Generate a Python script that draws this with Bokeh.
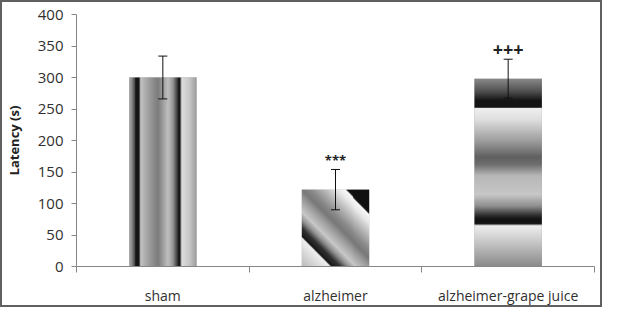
import numpy as np
from bokeh.plotting import figure
from bokeh.models import Range1d, FixedTicker, ColumnDataSource
from bokeh.core.properties import value
from bokeh.embed import file_html
from bokeh.resources import INLINE

# ---- data ----
categories = ["sham", "alzheimer", "alzheimer-grape juice"]
latency = [300, 122, 298]
error = [34, 32, 31]
marks = ["", "***", "+++"]
y_ticks = [0, 50, 100, 150, 200, 250, 300, 350, 400]

x_pos = [i + 0.5 for i in range(len(categories))]
bar_w = 0.39
AX = "#868686"
TXT = "#303030"
FONT = "Open Sans"

p = figure(width=602, height=307,
           min_border_left=76, min_border_right=8, min_border_top=14, min_border_bottom=40,
           x_range=Range1d(0, 3), y_range=Range1d(0, 400),
           output_backend="svg", toolbar_location=None,
           background_fill_color="white", border_fill_color="white", border_fill_alpha=0)
p.styles = {"box-shadow": "inset 0 0 0 2px #606060", "background-color": "white"}
p.outline_line_color = None
p.xgrid.visible = False
p.ygrid.visible = False


def profile(n, stops):
    pos = np.array([s[0] for s in stops], dtype=float)
    val = np.array([s[1] for s in stops], dtype=float)
    return np.interp(np.linspace(pos[0], pos[-1], n), pos, val)


def to_rgba(gray):
    h, w = gray.shape
    img = np.empty((h, w), dtype=np.uint32)
    v = img.view(dtype=np.uint8).reshape((h, w, 4))
    g = np.clip(gray, 0, 255).astype(np.uint8)
    v[:, :, 0] = g
    v[:, :, 1] = g
    v[:, :, 2] = g
    v[:, :, 3] = 255
    return img[::-1]  # row 0 at bottom


PX_PER_UNIT_Y = 253 / 400
W = 68

# sham: vertical stripes
sham_stops = [(0, 0xa8), (0.04, 0x80), (0.08, 0x40), (0.09, 0x14), (0.145, 0x14), (0.155, 0xc8),
              (0.25, 0xa8), (0.42, 0x7c), (0.57, 0xc0), (0.64, 0x98), (0.71, 0x38), (0.73, 0x14),
              (0.77, 0x14), (0.78, 0xe0), (0.9, 0xc8), (1.0, 0xa0)]
H0 = int(round(latency[0] * PX_PER_UNIT_Y))
row = profile(W, sham_stops)
img0 = to_rgba(np.tile(row, (H0, 1)))

# alzheimer: diagonal stripes
alz_stops = [(32, 0xb8), (50, 0xd8), (62, 0xf0), (64, 0x18), (72, 0x30), (80, 0x90), (88, 0xc8),
             (100, 0xa0), (110, 0x78), (118, 0x88), (132, 0xb8), (145, 0xe8), (153, 0xf8),
             (155, 0x10), (180, 0x10)]
H1 = int(round(latency[1] * PX_PER_UNIT_Y))
ii, jj = np.meshgrid(np.arange(W), np.arange(H1))
u = 111 + ii - jj
up = np.array([s[0] for s in alz_stops], dtype=float)
uv = np.array([s[1] for s in alz_stops], dtype=float)
img1 = to_rgba(np.interp(u, up, uv))

# grape juice: horizontal bands
grape_stops = [(0, 0x8c), (0.07, 0x50), (0.12, 0x14), (0.155, 0x14), (0.16, 0xf0), (0.22, 0xe0),
               (0.33, 0xa0), (0.42, 0x60), (0.46, 0x70), (0.52, 0xb8), (0.62, 0xc8), (0.68, 0x90),
               (0.73, 0x30), (0.75, 0x14), (0.775, 0x14), (0.785, 0xf0), (1.0, 0x8c)]
H2 = int(round(latency[2] * PX_PER_UNIT_Y))
col = profile(H2, grape_stops)
img2 = to_rgba(np.tile(col[:, None], (1, W)))

p.vbar(x=x_pos, top=latency, width=bar_w, fill_color="#999999", line_color=None)
p.image_rgba(image=[img0, img1, img2], x=[x - bar_w / 2 for x in x_pos], y=[0, 0, 0],
             dw=[bar_w] * 3, dh=latency)

upper = [v + e for v, e in zip(latency, error)]
lower = [v - e for v, e in zip(latency, error)]
src = ColumnDataSource(dict(x=x_pos, upper=upper, lower=lower, marks=marks,
                            fs=["13px", "13px", "18px"], yo=[-9, -9, -10]))

# error bars
p.segment(x0="x", y0="lower", x1="x", y1="upper", source=src, line_color="#111111", line_width=1)
p.scatter(x="x", y="upper", source=src, marker="dash", size=9, line_color="#111111", line_width=1)
p.scatter(x="x", y="lower", source=src, marker="dash", size=9, line_color="#111111", line_width=1)

p.text(x="x", y="upper", text="marks", source=src, text_align="center", text_baseline="middle",
       y_offset="yo", text_font=value(FONT), text_font_size="fs", text_font_style="bold",
       text_color="#222222")

# axes
p.xaxis.ticker = FixedTicker(ticks=x_pos, minor_ticks=[0, 1, 2, 3])
p.xaxis.major_label_overrides = {x: c for x, c in zip(x_pos, categories)}
p.xaxis.major_tick_out = 0
p.xaxis.major_tick_in = 0
p.xaxis.minor_tick_out = 6
p.xaxis.minor_tick_in = 0
p.xaxis.minor_tick_line_color = AX
p.xaxis.axis_line_color = AX
p.xaxis.major_label_standoff = 13
p.xaxis.major_label_text_font = FONT
p.xaxis.major_label_text_font_size = "14px"
p.xaxis.major_label_text_color = TXT

p.yaxis.ticker = FixedTicker(ticks=y_ticks)
p.yaxis.major_tick_out = 5
p.yaxis.major_tick_in = 0
p.yaxis.minor_tick_line_color = None
p.yaxis.major_tick_line_color = AX
p.yaxis.axis_line_color = AX
p.yaxis.major_label_standoff = 8
p.yaxis.major_label_text_font = FONT
p.yaxis.major_label_text_font_size = "15px"
p.yaxis.major_label_text_color = TXT
p.yaxis.axis_label = "Latency (s)"
p.yaxis.axis_label_text_font = FONT
p.yaxis.axis_label_text_font_style = "bold"
p.yaxis.axis_label_text_font_size = "13px"
p.yaxis.axis_label_text_color = "#222222"
p.yaxis.axis_label_standoff = 12

open("out.html", "w").write(file_html(p, INLINE))
